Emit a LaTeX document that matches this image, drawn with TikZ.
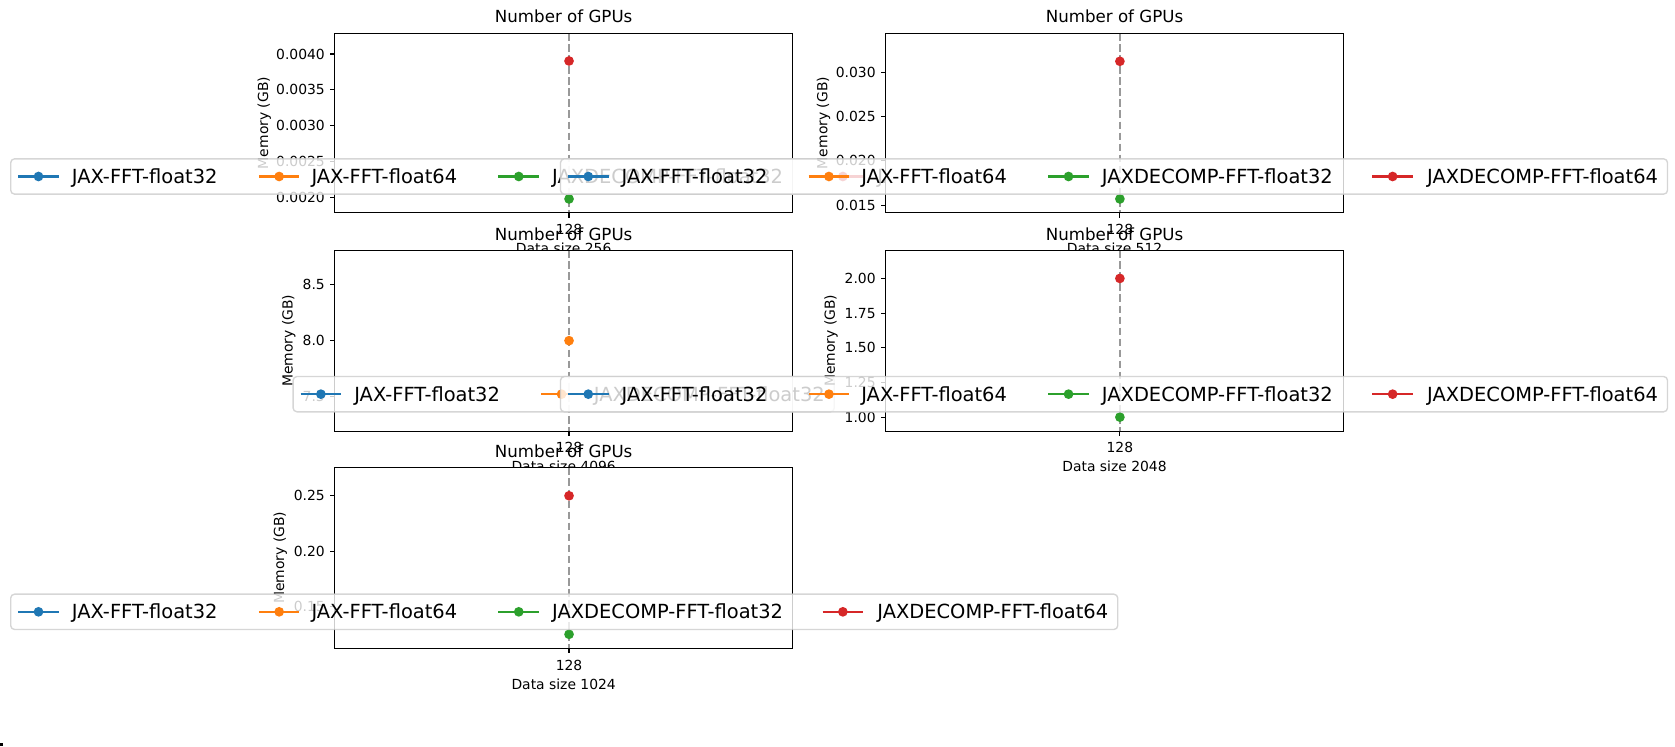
\documentclass[tikz,border=0pt]{standalone}
\usepackage{fontspec}
\setmainfont{DejaVu Sans}
\definecolor{tabblue}{HTML}{1F77B4}
\definecolor{taborange}{HTML}{FF7F0E}
\definecolor{tabgreen}{HTML}{2CA02C}
\definecolor{tabred}{HTML}{D62728}
\definecolor{guidegray}{HTML}{999999}
\definecolor{legedge}{HTML}{CCCCCC}
\begin{document}
\begin{tikzpicture}[x=0.77pt, y=0.77pt, yscale=-1, xscale=1,
  spine/.style={line width=0.8pt},
  tck/.style={line width=0.8pt},
  ticklbl/.style={inner sep=0pt, font=\fontsize{10}{12}\selectfont},
  ttl/.style={inner sep=0pt, anchor=base, font=\fontsize{12}{14}\selectfont},
  xlbl/.style={inner sep=0pt, anchor=base, font=\fontsize{10}{12}\selectfont},
  ylbl/.style={inner sep=0pt, rotate=90, font=\fontsize{10}{12}\selectfont},
  guide/.style={guidegray, line width=1.5pt, dash pattern=on 5.55pt off 2.4pt},
  mk/.style={circle, inner sep=0pt, minimum size=7pt},
  legbox/.style={fill=white, fill opacity=0.8, draw=legedge, draw opacity=0.8, line width=1pt, rounded corners=2.8pt},
  hnd/.style={line width=1.5pt},
  legtxt/.style={inner sep=0pt, anchor=base west, font=\fontsize{14}{16}\selectfont}]
\useasboundingbox (0,0) rectangle (1566,697.6);
%Data size 256
\fill[white] (313,31) rectangle (741,199);
\draw[guide] (532,31) -- (532,199);
\node[mk, fill=tabred] (a64) at (532,57) {};
\node[mk, fill=tabgreen] (a32) at (532,186) {};
\draw[spine] (313,31) rectangle (741,199);
\draw[tck] (313,50.5) -- ++(-4.55,0); \node[ticklbl, anchor=east] (ay1) at (303.9,50.5) {0.0040};
\draw[tck] (313,83.9) -- ++(-4.55,0); \node[ticklbl, anchor=east] (ay2) at (303.9,83.9) {0.0035};
\draw[tck] (313,117.6) -- ++(-4.55,0); \node[ticklbl, anchor=east] (ay3) at (303.9,117.6) {0.0030};
\draw[tck] (313,151) -- ++(-4.55,0); \node[ticklbl, anchor=east] (ay4) at (303.9,151) {0.0025};
\draw[tck] (313,184.5) -- ++(-4.55,0); \node[ticklbl, anchor=east] (ay5) at (303.9,184.5) {0.0020};
\draw[tck] (532,199) -- ++(0,4.55); \node[ticklbl, anchor=north] (ax) at (532,209.5) {128};
\node[ttl] (atitle) at (527,21.5) {Number of GPUs};
\node[xlbl] (axlabel) at (527,237.2) {Data size 256};
\node[ylbl] (aylabel) at (247,115) {Memory (GB)};
\draw[legbox] (10,148.5) rectangle (1045,181.5);
\draw[hnd, tabblue] (17,165) -- (55,165) node[mk, fill=tabblue, midway] (ah1) {};
\node[legtxt] (at1) at (67,171.5) {JAX-FFT-float32};
\draw[hnd, taborange] (242,165) -- (280,165) node[mk, fill=taborange, midway] (ah2) {};
\node[legtxt] (at2) at (291,171.5) {JAX-FFT-float64};
\draw[hnd, tabgreen] (466,165) -- (504,165) node[mk, fill=tabgreen, midway] (ah3) {};
\node[legtxt] (at3) at (516,171.5) {JAXDECOMP-FFT-float32};
\draw[hnd, tabred] (769,165) -- (807,165) node[mk, fill=tabred, midway] (ah4) {};
\node[legtxt] (at4) at (820,171.5) {JAXDECOMP-FFT-float64};
%Data size 512
\fill[white] (828,31) rectangle (1256,199);
\draw[guide] (1047,31) -- (1047,199);
\node[mk, fill=tabred] (b64) at (1047,57.3) {};
\node[mk, fill=tabgreen] (b32) at (1047,186) {};
\draw[spine] (828,31) rectangle (1256,199);
\draw[tck] (828,67.5) -- ++(-4.55,0); \node[ticklbl, anchor=east] (by1) at (818.9,67.5) {0.030};
\draw[tck] (828,109.3) -- ++(-4.55,0); \node[ticklbl, anchor=east] (by2) at (818.9,109.3) {0.025};
\draw[tck] (828,150.4) -- ++(-4.55,0); \node[ticklbl, anchor=east] (by3) at (818.9,150.4) {0.020};
\draw[tck] (828,191.9) -- ++(-4.55,0); \node[ticklbl, anchor=east] (by4) at (818.9,191.9) {0.015};
\draw[tck] (1047,199) -- ++(0,4.55); \node[ticklbl, anchor=north] (bx) at (1047,209.5) {128};
\node[ttl] (btitle) at (1042,21.5) {Number of GPUs};
\node[xlbl] (bxlabel) at (1042,237.2) {Data size 512};
\node[ylbl] (bylabel) at (770,115) {Memory (GB)};
\draw[legbox] (524,148.5) rectangle (1559,181.5);
\draw[hnd, tabblue] (531,165) -- (569,165) node[mk, fill=tabblue, midway] (bh1) {};
\node[legtxt] (bt1) at (581,171.5) {JAX-FFT-float32};
\draw[hnd, taborange] (756,165) -- (794,165) node[mk, fill=taborange, midway] (bh2) {};
\node[legtxt] (bt2) at (805,171.5) {JAX-FFT-float64};
\draw[hnd, tabgreen] (980,165) -- (1018,165) node[mk, fill=tabgreen, midway] (bh3) {};
\node[legtxt] (bt3) at (1030,171.5) {JAXDECOMP-FFT-float32};
\draw[hnd, tabred] (1283,165) -- (1321,165) node[mk, fill=tabred, midway] (bh4) {};
\node[legtxt] (bt4) at (1334,171.5) {JAXDECOMP-FFT-float64};
%Data size 4096
\fill[white] (313,234) rectangle (741,403);
\draw[guide] (532,234) -- (532,403);
\node[mk, fill=taborange] (c32) at (532,318.5) {};
\draw[spine] (313,234) rectangle (741,403);
\draw[tck] (313,265.9) -- ++(-4.55,0); \node[ticklbl, anchor=east] (cy1) at (303.9,265.9) {8.5};
\draw[tck] (313,318.5) -- ++(-4.55,0); \node[ticklbl, anchor=east] (cy2) at (303.9,318.5) {8.0};
\draw[tck] (313,370.8) -- ++(-4.55,0); \node[ticklbl, anchor=east] (cy3) at (303.9,370.8) {7.5};
\draw[tck] (532,403) -- ++(0,4.55); \node[ticklbl, anchor=north] (cx) at (532,413.5) {128};
\node[ttl] (ctitle) at (527,224.5) {Number of GPUs};
\node[xlbl] (cxlabel) at (527,441.2) {Data size 4096};
\node[ylbl] (cylabel) at (270,318.5) {Memory (GB)};
\draw[legbox] (274,352) rectangle (780,385);
\draw[hnd, tabblue] (281,368.5) -- (319,368.5) node[mk, fill=tabblue, midway] (ch1) {};
\node[legtxt] (ct1) at (331,375) {JAX-FFT-float32};
\draw[hnd, taborange] (506,368.5) -- (544,368.5) node[mk, fill=taborange, midway] (ch2) {};
\node[legtxt] (ct2) at (555,375) {JAXDECOMP-FFT-float32};
%Data size 2048
\fill[white] (828,234) rectangle (1256,403);
\draw[guide] (1047,234) -- (1047,403);
\node[mk, fill=tabred] (d64) at (1047,260.3) {};
\node[mk, fill=tabgreen] (d32) at (1047,390) {};
\draw[spine] (828,234) rectangle (1256,403);
\draw[tck] (828,260.3) -- ++(-4.55,0); \node[ticklbl, anchor=east] (dy1) at (818.9,260.3) {2.00};
\draw[tck] (828,292.8) -- ++(-4.55,0); \node[ticklbl, anchor=east] (dy2) at (818.9,292.8) {1.75};
\draw[tck] (828,325) -- ++(-4.55,0); \node[ticklbl, anchor=east] (dy3) at (818.9,325) {1.50};
\draw[tck] (828,357.5) -- ++(-4.55,0); \node[ticklbl, anchor=east] (dy4) at (818.9,357.5) {1.25};
\draw[tck] (828,390) -- ++(-4.55,0); \node[ticklbl, anchor=east] (dy5) at (818.9,390) {1.00};
\draw[tck] (1047,403) -- ++(0,4.55); \node[ticklbl, anchor=north] (dx) at (1047,413.5) {128};
\node[ttl] (dtitle) at (1042,224.5) {Number of GPUs};
\node[xlbl] (dxlabel) at (1042,441.2) {Data size 2048};
\node[ylbl] (dylabel) at (777,318.5) {Memory (GB)};
\draw[legbox] (524,352) rectangle (1559,385);
\draw[hnd, tabblue] (531,368.5) -- (569,368.5) node[mk, fill=tabblue, midway] (dh1) {};
\node[legtxt] (dt1) at (581,375) {JAX-FFT-float32};
\draw[hnd, taborange] (756,368.5) -- (794,368.5) node[mk, fill=taborange, midway] (dh2) {};
\node[legtxt] (dt2) at (805,375) {JAX-FFT-float64};
\draw[hnd, tabgreen] (980,368.5) -- (1018,368.5) node[mk, fill=tabgreen, midway] (dh3) {};
\node[legtxt] (dt3) at (1030,375) {JAXDECOMP-FFT-float32};
\draw[hnd, tabred] (1283,368.5) -- (1321,368.5) node[mk, fill=tabred, midway] (dh4) {};
\node[legtxt] (dt4) at (1334,375) {JAXDECOMP-FFT-float64};
%Data size 1024
\fill[white] (313,437) rectangle (741,606);
\draw[guide] (532,437) -- (532,606);
\node[mk, fill=tabred] (e64) at (532,463.5) {};
\node[mk, fill=tabgreen] (e32) at (532,593) {};
\draw[spine] (313,437) rectangle (741,606);
\draw[tck] (313,463.5) -- ++(-4.55,0); \node[ticklbl, anchor=east] (ey1) at (303.9,463.5) {0.25};
\draw[tck] (313,515.4) -- ++(-4.55,0); \node[ticklbl, anchor=east] (ey2) at (303.9,515.4) {0.20};
\draw[tck] (313,567) -- ++(-4.55,0); \node[ticklbl, anchor=east] (ey3) at (303.9,567) {0.15};
\draw[tck] (532,606) -- ++(0,4.55); \node[ticklbl, anchor=north] (ex) at (532,616.5) {128};
\node[ttl] (etitle) at (527,427.5) {Number of GPUs};
\node[xlbl] (exlabel) at (527,644.2) {Data size 1024};
\node[ylbl] (eylabel) at (262,521.5) {Memory (GB)};
\draw[legbox] (10,555.5) rectangle (1045,588.5);
\draw[hnd, tabblue] (17,572) -- (55,572) node[mk, fill=tabblue, midway] (eh1) {};
\node[legtxt] (et1) at (67,578.5) {JAX-FFT-float32};
\draw[hnd, taborange] (242,572) -- (280,572) node[mk, fill=taborange, midway] (eh2) {};
\node[legtxt] (et2) at (291,578.5) {JAX-FFT-float64};
\draw[hnd, tabgreen] (466,572) -- (504,572) node[mk, fill=tabgreen, midway] (eh3) {};
\node[legtxt] (et3) at (516,578.5) {JAXDECOMP-FFT-float32};
\draw[hnd, tabred] (769,572) -- (807,572) node[mk, fill=tabred, midway] (eh4) {};
\node[legtxt] (et4) at (820,578.5) {JAXDECOMP-FFT-float64};
%corner mark
\fill (0,694.5) rectangle (2.8,697.6);
\end{tikzpicture}
\end{document}
